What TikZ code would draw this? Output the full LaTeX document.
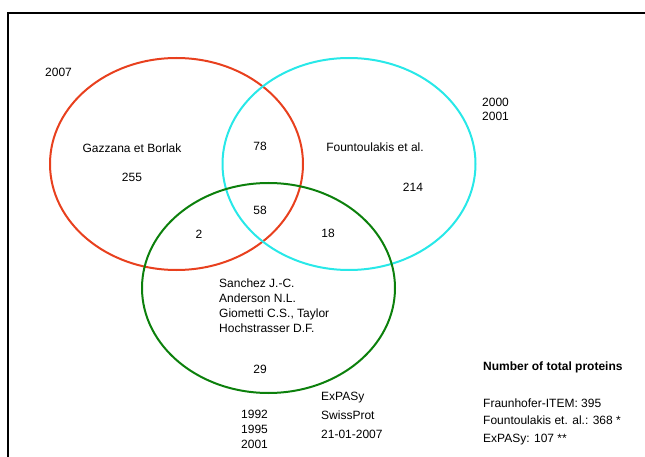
\documentclass[tikz,border=0pt]{standalone}
\usepackage{fontspec}
\setmainfont{Liberation Sans}
\usepackage{tikz}
\usetikzlibrary{shapes.geometric}% allows nodes to be ellipses
\definecolor{gazred}{RGB}{232,64,30}
\definecolor{founcyan}{RGB}{40,232,232}
\definecolor{expgreen}{RGB}{12,128,12}
\tikzset{every node/.style={font=\fontsize{12}{14}\selectfont, inner sep=0pt},
  vennset/.style={ellipse, draw, line width=2pt, minimum width=253pt,
    minimum height=212pt},
  txt/.style={anchor=base west},
  cnt/.style={anchor=center}}
\newcommand{\lines}[4]{% name, x, first baseline, step; list follows
  \foreach \t [count=\i] in {#4}
    \node[txt] (#1\i) at (#2,{#3+(\i-1)*\linestep}) {\t};}
\begin{document}
\begin{tikzpicture}[x=1pt,y=-1pt]
\useasboundingbox (0,0) rectangle (645,457);
\draw[line width=1.5pt] (8,457) -- (8,13) -- (645,13);
% the three sets
\node[vennset, draw=gazred]   (gazzana) at (176.5,164) {};
\node[vennset, draw=founcyan] (fount)   at (349,164) {};
\node[vennset, draw=expgreen, minimum height=210pt] (expasy) at (268.5,288) {};
% set names and years
\node[anchor=base] (gazname)   at (132,153) {Gazzana et Borlak};
\node[anchor=base] (fountname) at (375,152) {Fountoulakis et al.};
\def\linestep{14}
\lines{gazyear}{45}{77}{2007}
\lines{fountyear}{482}{107}{2000,2001}
\def\linestep{15}
\lines{author}{219}{287}{{Sanchez J.-C.},{Anderson N.L.},{Giometti C.S., Taylor},{Hochstrasser D.F.}}
\lines{expyear}{241}{418}{1992,1995,2001}
\def\linestep{19}
\lines{source}{321}{400}{ExPASy,SwissProt,21-01-2007}
% counts
\node[cnt] (only1) at (132,177) {255};
\node[cnt] (only2) at (413,187) {214};
\node[cnt] (only3) at (260,369) {29};
\node[cnt] (both12) at (260,146) {78};
\node[cnt] (both13) at (199,234) {2};
\node[cnt] (both23) at (328,233) {18};
\node[cnt] (all) at (260,210) {58};
% totals
\node[txt, font=\fontsize{12}{14}\selectfont\bfseries] (total) at (483,370) {Number of total proteins};
\def\linestep{17.5}
\lines{tot}{483}{407}{{Fraunhofer-ITEM: 395},{Fountoulakis et. al.: 368 *},{ExPASy: 107 **}}
\end{tikzpicture}
\end{document}
